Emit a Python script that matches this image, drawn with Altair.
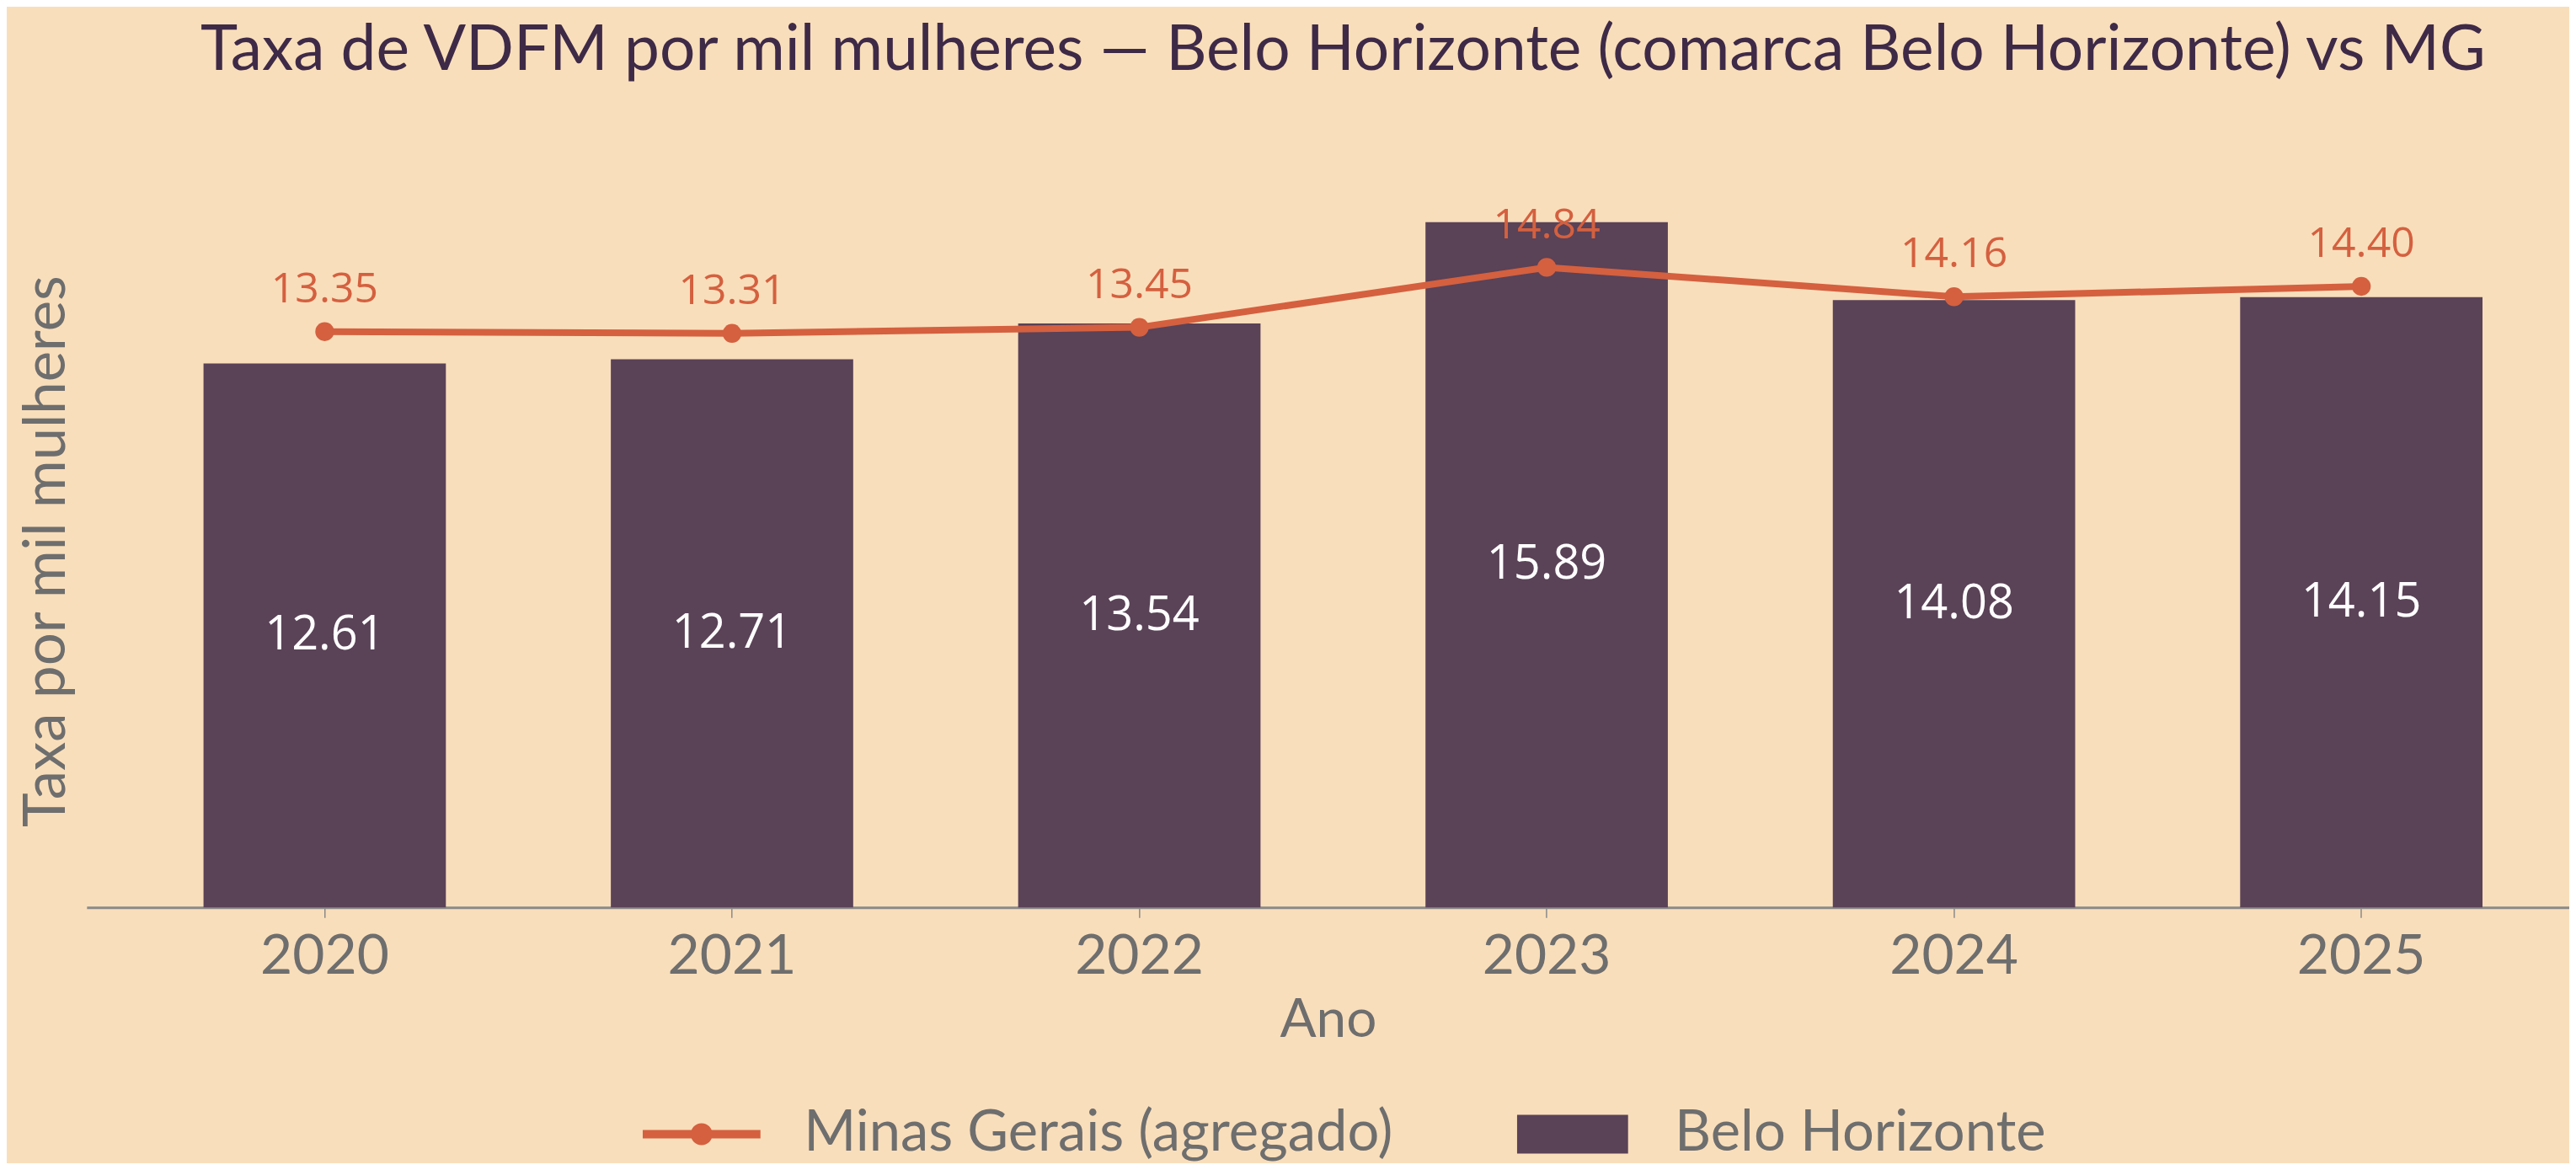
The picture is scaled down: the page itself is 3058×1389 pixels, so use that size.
import altair as alt
import pandas as pd

# ---- data ----
years = ["2020", "2021", "2022", "2023", "2024", "2025"]
bh_rate = [12.61, 12.71, 13.54, 15.89, 14.08, 14.15]   # Belo Horizonte (bars)
mg_rate = [13.35, 13.31, 13.45, 14.84, 14.16, 14.40]   # Minas Gerais (line)
series_names = ["Minas Gerais (agregado)", "Belo Horizonte"]

BG = "#F9DEBB"
BAR = "#5A4257"
ORANGE = "#D4603F"
TITLE_C = "#3E2A47"
GRAY = "#6E6E6E"
FONT = "Lato"
NUMFONT = "Open Sans"

df = pd.DataFrame({"ano": years, "bh": bh_rate, "mg": mg_rate})
df["bh_mid"] = df["bh"] / 2
legend_df = pd.DataFrame({"serie": series_names})

x = alt.X(
    "ano:N",
    sort=years,
    title="Ano",
    scale=alt.Scale(paddingInner=0.405, paddingOuter=0.25, align=0.574),
    axis=alt.Axis(
        labelAngle=0,
        labelFont=FONT,
        labelFontSize=66,
        labelColor=GRAY,
        labelPadding=14,
        titleFont=FONT,
        titleFontSize=64,
        titleFontWeight="normal",
        titleColor=GRAY,
        titlePadding=12,
        domainColor="#8A8A8A",
        domainWidth=3,
        tickColor="#8A8A8A",
        tickWidth=1.5,
        tickSize=12,
        grid=False,
    ),
)
yscale = alt.Scale(domain=[0, 16.53], nice=False, zero=True)
y_axis = alt.Axis(
    labels=False,
    ticks=False,
    domain=False,
    grid=False,
    title="Taxa por mil mulheres",
    titleFont=FONT,
    titleFontSize=69,
    titleFontWeight="normal",
    titleColor=GRAY,
    titlePadding=12,
)

base = alt.Chart(df)

bars = base.mark_bar(color=BAR).encode(
    x=x,
    y=alt.Y("bh:Q", scale=yscale, axis=y_axis),
)

bar_text = base.mark_text(
    color="white", font=NUMFONT, fontSize=56, baseline="middle"
).encode(
    x=alt.X("ano:N", sort=years),
    y=alt.Y("bh_mid:Q", scale=yscale),
    text=alt.Text("bh:Q", format=".2f"),
)

line = base.mark_line(color=ORANGE, strokeWidth=8).encode(
    x=alt.X("ano:N", sort=years),
    y=alt.Y("mg:Q", scale=yscale),
)

points = base.mark_circle(color=ORANGE, size=500, opacity=1).encode(
    x=alt.X("ano:N", sort=years),
    y=alt.Y("mg:Q", scale=yscale),
)

line_text = base.mark_text(
    color=ORANGE, font=NUMFONT, fontSize=50, baseline="alphabetic", dy=-35
).encode(
    x=alt.X("ano:N", sort=years),
    y=alt.Y("mg:Q", scale=yscale),
    text=alt.Text("mg:Q", format=".2f"),
)

# legend symbols (unit = 25 px with symbolSize 2500)
line_symbol = (
    "M-2.8,-0.2L2.8,-0.2L2.8,0.2L-2.8,0.2Z"
    "M0.52,0A0.52,0.52 0 1,1 -0.52,0A0.52,0.52 0 1,1 0.52,0Z"
)
rect_symbol = "M-2.64,-0.92L2.64,-0.92L2.64,0.92L-2.64,0.92Z"

legend_props = dict(
    title=None,
    orient="none",
    direction="horizontal",
    legendX=698,
    legendY=1084,
    labelFont=FONT,
    labelFontSize=67,
    labelColor=GRAY,
    labelLimit=2000,
    labelOffset=88,
    symbolSize=2500,
    symbolStrokeWidth=0,
    symbolOpacity=1,
    columnPadding=147,
)

legend_layer = (
    alt.Chart(legend_df)
    .transform_filter("false")
    .mark_point(filled=True)
    .encode(
        color=alt.Color(
            "serie:N",
            scale=alt.Scale(domain=series_names, range=[ORANGE, BAR]),
            legend=alt.Legend(**legend_props),
        ),
        shape=alt.Shape(
            "serie:N",
            scale=alt.Scale(domain=series_names, range=[line_symbol, rect_symbol]),
            legend=alt.Legend(**legend_props),
        ),
    )
)

chart = (
    alt.layer(bars, bar_text, line, points, line_text, legend_layer)
    .properties(
        width=2953,
        height=848,
        background=BG,
        autosize=alt.AutoSizeParams(type="none"),
        padding={"left": 95, "top": 222, "right": 0, "bottom": 303},
        title=alt.TitleParams(
            text="Taxa de VDFM por mil mulheres — Belo Horizonte (comarca Belo Horizonte) vs MG",
            font=FONT,
            fontSize=75,
            fontWeight="normal",
            color=TITLE_C,
            anchor="middle",
            dx=18,
            offset=132,
        ),
    )
    .configure_view(strokeWidth=0)
)

chart.save("out.html", embed_options={"renderer": "svg", "actions": False})
